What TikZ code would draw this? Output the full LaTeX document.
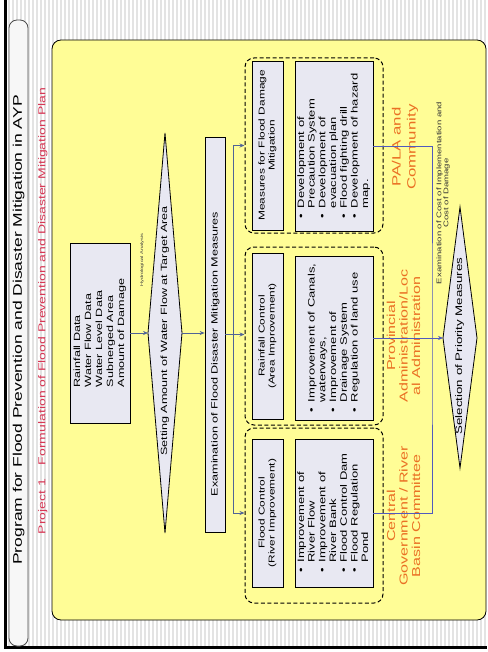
\documentclass[tikz,border=0pt]{standalone}
\usepackage{fontspec}
\setmainfont{Liberation Sans}
\usetikzlibrary{arrows.meta}
\definecolor{yel}{RGB}{255,253,150}
\definecolor{lav}{RGB}{232,232,242}
\definecolor{org}{RGB}{234,112,36}
\definecolor{subred}{RGB}{215,55,85}
\definecolor{lnk}{RGB}{80,100,150}
\definecolor{blu}{RGB}{80,90,190}
\newcommand\rt[2][c]{\rotatebox{90}{\scalebox{1.4}[1]{\begin{tabular}{@{}#1@{}}#2\end{tabular}}}}
\newcommand\rl[1]{\rotatebox{90}{\scalebox{1.4}[1]{\begin{tabular}{@{}c@{\hspace{4pt}}l@{}}#1\end{tabular}}}}
\begin{document}
\begin{tikzpicture}[x=1pt,y=-1pt,
 box/.style={draw=black, fill=lav, line width=0.7pt, inner sep=0pt},
 grp/.style={draw=black, dash pattern=on 4pt off 2.5pt, line width=1pt, rounded corners=9pt, inner sep=0pt, minimum width=138pt},
 lbl/.style={inner sep=0pt, text=org},
 txt/.style={inner sep=0pt},
 arr/.style={draw=lnk, line width=0.7pt, -{Stealth[length=5pt,width=4pt]}},
 lk/.style={draw=lnk, line width=0.7pt},
 bl/.style={draw=blu, line width=0.6pt},
 dia/.style={draw=black, fill=lav, line width=0.8pt},
 f9/.style={font=\fontsize{9}{11}\selectfont},
 fh/.style={font=\fontsize{8.5}{10}\selectfont},
 fl/.style={font=\fontsize{9.3}{10.7}\selectfont}]
\useasboundingbox (0,0) rectangle (487,652);
\fill[white] (0,0) rectangle (487,652);
\foreach \i in {9,13,...,485} \draw[gray!22, line width=1.3pt] (\i,0) -- (\i,646);
\draw[line width=2.6pt] (5.5,0) -- (5.5,647.5) -- (487,647.5);
% title bar
\node[draw=gray!60!black, fill=gray!6, rounded corners=8pt, minimum width=19pt, minimum height=626pt, inner sep=0pt, line width=0.8pt] (titlebar) at (18.5,333) {};
\node[txt, font=\fontsize{12.5}{14}\selectfont] (title) at (19,330) {\rt{Program for Flood Prevention and Disaster Mitigation in AYP}};
\node[txt, text=subred, font=\fontsize{10}{12}\selectfont] (sub) at (43,311) {\rt{Project 1\quad Formulation of Flood Prevention and Disaster Mitigation Plan}};
% yellow panel
\node[draw=black, fill=yel, line width=0.8pt, rounded corners=9pt, minimum width=434pt, minimum height=580pt, inner sep=0pt] (panel) at (269,330) {};
% data
\node[box, f9, minimum width=60pt, minimum height=180pt] (data) at (100,333) {\rt[l]{Rainfall Data\\Water Flow Data\\Water Level Data\\Subnerged Area\\Amount of Damage}};
\node[txt, font=\fontsize{4}{5}\selectfont, text=gray!50!black] (hyd) at (142,260) {\rt{Hydrological Analysis}};
% diamond 1
\coordinate (d1n) at (165,133);
\coordinate (d1e) at (182,333);
\coordinate (d1s) at (165,533);
\coordinate (d1w) at (148,333);
\filldraw[dia] (d1n) -- (d1e) -- (d1s) -- (d1w) -- cycle;
\node[txt, f9] (d1) at (165,331) {\rt{Setting Amount of Water Flow at Target Area}};
% examination
\node[box, minimum width=20pt, minimum height=395pt] (exam) at (215,334.5) {};
\node[txt, f9] (examt) at (215.5,354) {\rt{Examination of Flood Disaster Mitigation Measures}};
% groups
\node[grp, minimum height=175pt] (g1) at (314,145.5) {};
\node[grp, minimum height=178pt] (g2) at (314,336) {};
\node[grp, minimum height=175pt] (g3) at (314,515.5) {};
\node[box, fh, minimum width=31pt, minimum height=169pt] (g1h) at (267.5,145.5) {\rt{Measures for Flood Damage\\Mitigation}};
\node[box, fh, minimum width=31pt, minimum height=166pt] (g2h) at (267.5,336) {\rt{Rainfall Control\\(Area Improvement)}};
\node[box, fh, minimum width=31pt, minimum height=148pt] (g3h) at (267.5,513) {\rt{Flood Control\\(River Improvement)}};
\node[box, fl, minimum width=78pt, minimum height=170pt] (g1l) at (334,146) {\rl{\textbullet & Development of\\ & Precaution System\\ \textbullet & Development of\\ & evacuation plan\\ \textbullet & Flood fighting drill\\ \textbullet & Development of hazard\\ & map.}};
\node[box, fl, minimum width=78pt, minimum height=164pt] (g2l) at (334,338) {\rl{\textbullet & Improvement of Canals,\\ & waterways,\\ \textbullet & Improvement of\\ & Drainage System\\ \textbullet & Regulation of land use}};
\node[box, fl, minimum width=78pt, minimum height=148pt] (g3l) at (334,513) {\rl{\textbullet & Improvement of\\ & River Flow\\ \textbullet & Improvement of\\ & River Bank\\ \textbullet & Flood Control Dam\\ \textbullet & Flood Regulation\\ & Pond}};
% role labels
\node[lbl, font=\fontsize{12}{15}\selectfont] (pa) at (405,147) {\rt{PA/LA and\\Community}};
\node[lbl, font=\fontsize{11.5}{12.5}\selectfont] (prov) at (405,336) {\rt{Provincial\\Administration/Loc\\al Administration}};
\node[lbl, font=\fontsize{11.5}{12.5}\selectfont] (cent) at (405,516) {\rt{Central\\Government / River\\Basin Committee}};
\node[txt, font=\fontsize{6.8}{7}\selectfont, text=gray!40!black] (cost) at (443.5,193) {\rt{Examination of Cost of Implementation and\\Cost of Damage}};
% selection diamond
\coordinate (sn) at (460,207);
\coordinate (se) at (477,338);
\coordinate (ss) at (460,468);
\coordinate (sw) at (443,338);
\filldraw[dia] (sn) -- (se) -- (ss) -- (sw) -- cycle;
\node[txt, font=\fontsize{9.5}{11}\selectfont] (sel) at (460,346) {\rt{Selection of Priority Measures}};
% connectors
\draw[arr] (data.east) -- (d1w);
\draw[arr] (d1e) -- (d1e -| exam.west);
\coordinate (jx) at (233,334.5);
\draw[arr] (exam.east) -- (exam.east -| g2.west);
\draw[lk] (g1h.west -| jx) -- (g3h.west -| jx);
\draw[arr] (g1h.west -| jx) -- (g1h.west -| g1.west);
\draw[arr] (g3h.west -| jx) -- (g3h.west -| g3.west);
\coordinate (rx) at (432,338);
\draw[bl] (g1l.east) -| (rx) |- (g3l.east);
\draw[bl, -{Stealth[length=5pt,width=4pt,fill=lnk]}] (g2l.east) -- (sw);
\end{tikzpicture}
\end{document}
